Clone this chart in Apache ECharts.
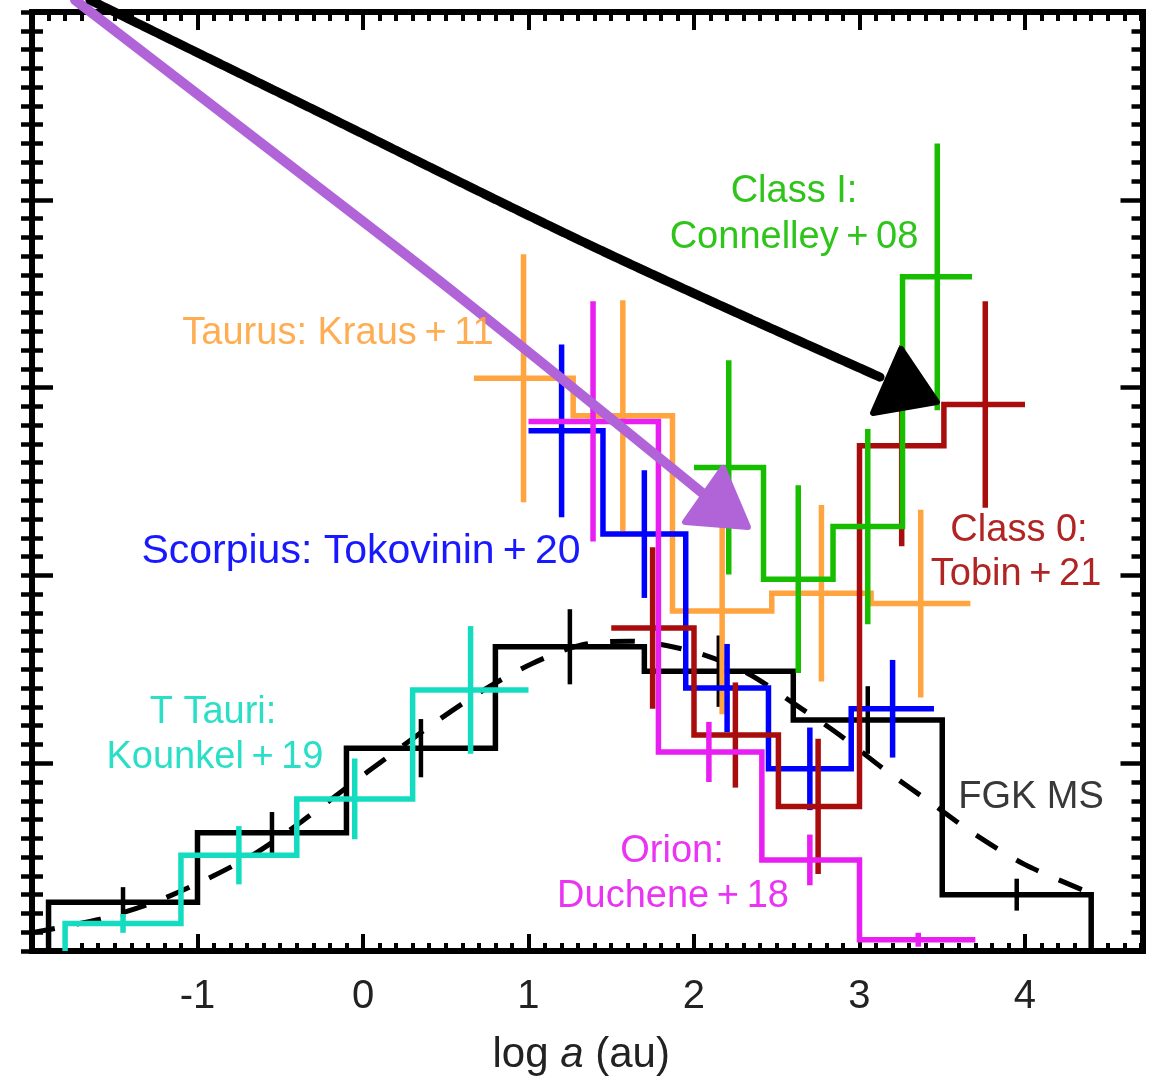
<!DOCTYPE html>
<html>
<head>
<meta charset="utf-8">
<script src="https://cdn.jsdelivr.net/npm/echarts@6/dist/echarts.min.js"></script>
<style>
  html, body { margin: 0; padding: 0; background: #fff; }
  #chart { width: 1158px; height: 1080px; }
</style>
</head>
<body>
<div id="chart"></div>
<script>
// Companion separation distributions, frequency per bin (arbitrary units) vs log a (au)

// FGK main-sequence field stars
const fgkEdges   = [-1.9, -1.0, -0.1, 0.8, 1.7, 2.6, 3.5, 4.4];
const fgkLevels  = [0.26, 0.63, 1.08, 1.62, 1.49, 1.23, 0.30];
const fgkCenters = [-1.45, -0.55, 0.35, 1.25, 2.15, 3.05, 3.95];
const fgkErrors  = [0.08, 0.11, 0.155, 0.20, 0.19, 0.18, 0.085];
// log-normal fit to the field sample (dashed)
const fgkFitX = [-2.01, -1.59, -1.26, -0.95, -0.65, -0.37, -0.10, 0.16, 0.44, 0.73, 1.02, 1.32, 1.61, 2.01, 2.32, 2.60, 2.88, 3.16, 3.43, 3.70, 4.00, 4.39];
const fgkFitY = [0.096, 0.17, 0.26, 0.38, 0.52, 0.69, 0.87, 1.04, 1.22, 1.39, 1.53, 1.63, 1.65, 1.59, 1.48, 1.32, 1.15, 0.96, 0.79, 0.62, 0.46, 0.31];

// T Tauri: Kounkel+19
const ttauEdges   = [-1.8, -1.1, -0.4, 0.3, 1.0];
const ttauLevels  = [0.147, 0.51, 0.81, 1.39];
const ttauCenters = [-1.45, -0.75, -0.05, 0.65];
const ttauErrors  = [0.05, 0.155, 0.215, 0.34];

// Taurus: Kraus+11
const tauEdges   = [0.67, 1.27, 1.87, 2.47, 3.07, 3.67];
const tauLevels  = [3.05, 2.85, 1.81, 1.905, 1.85];
const tauCenters = [0.97, 1.57, 2.17, 2.77, 3.37];
const tauErrors  = [0.66, 0.615, 0.55, 0.47, 0.50];

// Scorpius: Tokovinin+20
const scoEdges   = [1.0, 1.45, 1.95, 2.45, 2.95, 3.45];
const scoLevels  = [2.77, 2.22, 1.40, 0.97, 1.29];
const scoCenters = [1.2, 1.7, 2.2, 2.7, 3.2];
const scoErrors  = [0.46, 0.34, 0.235, 0.22, 0.26];

// Orion: Duchene+18
const oriEdges   = [1.0, 1.785, 2.41, 3.0, 3.7];
const oriLevels  = [2.82, 1.06, 0.485, 0.06];
const oriCenters = [1.39, 2.09, 2.70, 3.355];
const oriErrors  = [0.64, 0.16, 0.135, 0.037];

// Class 0: Tobin+21
const c0Edges   = [1.5, 2.0, 2.51, 3.0, 3.51, 4.0];
const c0Levels  = [1.72, 1.15, 0.77, 2.69, 2.91];
const c0Centers = [1.75, 2.25, 2.75, 3.255, 3.76];
const c0Errors  = [0.43, 0.28, 0.36, 0.535, 0.55];

// Class I: Connelley+08
const c1Edges   = [2.0, 2.42, 2.84, 3.26, 3.68];
const c1Levels  = [2.575, 1.98, 2.26, 3.59];
const c1Centers = [2.21, 2.63, 3.05, 3.47];
const c1Errors  = [0.57, 0.50, 0.52, 0.71];

// Hand-drawn arrows (data coordinates)
const blackArrowPath = [[-1.65, 5.064], [-0.379, 4.515], [1.432, 3.733], [3.124, 3.056]];
const blackArrowHead = [[3.251, 3.206], [3.082, 2.865], [3.468, 2.923]];
const purpleArrowPath = [[-1.74, 5.064], [-0.381, 4.143], [0.586, 3.482], [2.066, 2.428]];
const purpleArrowHead = [[2.175, 2.572], [1.946, 2.284], [2.326, 2.258]];

// Axis ranges and ticks
const xMin = -2, xMax = 4.71, yMin = 0, yMax = 5;
const xTickLabels = [-1, 0, 1, 2, 3, 4];
const yMajorTicks = [1, 2, 3, 4];

// ---------------------------------------------------------------------------
const C = {
  fgk: '#000000', ttau: '#14DCC0', tau: '#FFA43F', sco: '#0000FF',
  ori: '#E81EF2', c0: '#A80C0C', c1: '#17BE00', purple: '#B064D8'
};
const FONT = '"Liberation Sans", Arial, Helvetica, sans-serif';
const TEXT = '#222222';

const xMinor = [];
for (let k = Math.round(xMin * 10) + 1; k <= Math.floor(xMax * 10); k++) if (k % 10 !== 0) xMinor.push(k / 10);
const yMinor = [];
for (let k = 1; k < yMax * 10; k++) if (k % 10 !== 0) yMinor.push(k / 10);
const yAll = [];
for (let k = 0; k <= yMax * 10; k++) yAll.push(k / 10);

function stepPath(edges, levels, fromBase, toBase) {
  const pts = [];
  if (fromBase) pts.push([edges[0], 0]);
  levels.forEach((v, i) => { pts.push([edges[i], v]); pts.push([edges[i + 1], v]); });
  if (toBase) pts.push([edges[edges.length - 1], 0]);
  return pts;
}

function histSeries(name, edges, levels, color, fromBase, toBase, z) {
  return {
    type: 'line', name, z, silent: true, animation: false,
    data: stepPath(edges, levels, fromBase, toBase),
    symbol: 'none', showSymbol: false,
    lineStyle: { color, width: 5.5, join: 'miter', cap: 'butt' }
  };
}

function errSeries(name, centers, levels, errs, color, z, width) {
  return {
    type: 'custom', name, z, silent: true, animation: false,
    data: centers.map((c, i) => [c, levels[i] - errs[i], levels[i] + errs[i]]),
    encode: { x: 0, y: [1, 2] },
    renderItem(params, api) {
      const a = api.coord([api.value(0), api.value(1)]);
      const b = api.coord([api.value(0), api.value(2)]);
      return {
        type: 'line',
        shape: { x1: a[0], y1: a[1], x2: b[0], y2: b[1] },
        style: { stroke: color, lineWidth: width || 5.5 }
      };
    }
  };
}

function arrowSeries(name, path, head, color, width, z) {
  return {
    type: 'custom', name, z, silent: true, animation: false, clip: false,
    data: [0],
    renderItem(params, api) {
      const pts = path.map(p => api.coord(p));
      const hd = head.map(p => api.coord(p));
      const children = [];
      // thin side strokes give the marker-pen edge
      [-4, 4].forEach(off => {
        children.push({
          type: 'polyline',
          shape: { points: pts.map(p => [p[0], p[1] + off]), smooth: 0.35 },
          style: { stroke: color, lineWidth: 2, opacity: 0.45, fill: null, lineJoin: 'round', lineDash: [14, 5] }
        });
      });
      children.push({
        type: 'polyline', shape: { points: pts, smooth: 0.35 },
        style: { stroke: color, lineWidth: width, fill: null, lineJoin: 'round', lineCap: 'round' }
      });
      children.push({
        type: 'polygon', shape: { points: hd },
        style: { fill: color, stroke: color, lineWidth: 6, lineJoin: 'round' }
      });
      return { type: 'group', children };
    }
  };
}

const hiddenLine = { show: false, onZero: false };
const frameLine = { show: true, onZero: false, lineStyle: { color: '#000', width: 6, cap: 'square' } };

function xAxisCfg(position, ticks, len, extra) {
  return Object.assign({
    type: 'value', position, min: xMin, max: xMax,
    axisLine: hiddenLine,
    axisTick: { show: true, inside: true, length: len, customValues: ticks, lineStyle: { color: '#000', width: 4 } },
    axisLabel: { show: false },
    splitLine: { show: false }, minorTick: { show: false }
  }, extra || {});
}

function yAxisCfg(position, ticks, len, inside, extra) {
  return Object.assign({
    type: 'value', position, min: yMin, max: yMax,
    axisLine: hiddenLine,
    axisTick: { show: true, inside, length: len, customValues: ticks, lineStyle: { color: '#000', width: 4.5 } },
    axisLabel: { show: false },
    splitLine: { show: false }, minorTick: { show: false }
  }, extra || {});
}

const option = {
  animation: false,
  backgroundColor: '#ffffff',
  grid: { left: 32, right: 15.5, top: 12, bottom: 129, containLabel: false, outerBoundsMode: 'none' },
  xAxis: [
    xAxisCfg('bottom', xTickLabels, 17, {
      axisLine: frameLine,
      axisLabel: {
        show: true, customValues: xTickLabels, margin: 26,
        fontSize: 40, lineHeight: 40, fontFamily: FONT, color: TEXT,
        formatter: v => String(v)
      },
      name: '{t|log }{i|a}{t| (au)}',
      nameLocation: 'middle', nameGap: 83,
      nameTextStyle: {
        fontSize: 42, fontFamily: FONT, color: TEXT, padding: [0, 12, 0, 0],
        rich: {
          t: { fontSize: 42, fontFamily: FONT, color: TEXT },
          i: { fontSize: 42, fontFamily: FONT, color: TEXT, fontStyle: 'italic' }
        }
      }
    }),
    xAxisCfg('bottom', xMinor, 8),
    xAxisCfg('top', xTickLabels, 18, { axisLine: frameLine }),
    xAxisCfg('top', xMinor, 9)
  ],
  yAxis: [
    yAxisCfg('left', yMajorTicks, 21, true, { axisLine: frameLine }),
    yAxisCfg('left', yMinor, 11, true),
    yAxisCfg('left', yAll, 11, false),
    yAxisCfg('right', yMajorTicks, 22, true, { axisLine: frameLine }),
    yAxisCfg('right', yMinor, 11, true)
  ],
  series: [
    histSeries('FGK MS', fgkEdges, fgkLevels, C.fgk, true, true, 3),
    errSeries('FGK MS err', fgkCenters, fgkLevels, fgkErrors, C.fgk, 3, 4.5),
    {
      type: 'line', name: 'FGK MS fit', z: 4, silent: true, animation: false,
      data: fgkFitX.map((x, i) => [x, fgkFitY[i]]),
      symbol: 'none', smooth: 0.3,
      lineStyle: { color: '#000', width: 5, type: [25, 22] }
    },
    histSeries('T Tauri', ttauEdges, ttauLevels, C.ttau, true, false, 5),
    errSeries('T Tauri err', ttauCenters, ttauLevels, ttauErrors, C.ttau, 5),
    histSeries('Taurus', tauEdges, tauLevels, C.tau, false, false, 6),
    errSeries('Taurus err', tauCenters, tauLevels, tauErrors, C.tau, 6),
    histSeries('Scorpius', scoEdges, scoLevels, C.sco, false, false, 7),
    errSeries('Scorpius err', scoCenters, scoLevels, scoErrors, C.sco, 7),
    histSeries('Class 0', c0Edges, c0Levels, C.c0, false, false, 8),
    errSeries('Class 0 err', c0Centers, c0Levels, c0Errors, C.c0, 8),
    histSeries('Orion', oriEdges, oriLevels, C.ori, false, false, 9),
    errSeries('Orion err', oriCenters, oriLevels, oriErrors, C.ori, 9),
    histSeries('Class I', c1Edges, c1Levels, C.c1, false, false, 10),
    errSeries('Class I err', c1Centers, c1Levels, c1Errors, C.c1, 10),
    arrowSeries('arrow purple', purpleArrowPath, purpleArrowHead, C.purple, 10, 20),
    arrowSeries('arrow black', blackArrowPath, blackArrowHead, '#000', 9, 21)
  ],
  graphic: []
};

// Sample labels
const notes = [
  { text: 'Class I:', x: 794, y: 192, color: C.c1 },
  { text: 'Connelley\u2009+\u200908', x: 794, y: 238, color: C.c1 },
  { text: 'Taurus: Kraus\u2009+\u200911', x: 338, y: 334, color: C.tau },
  { text: 'Scorpius: Tokovinin\u2009+\u200920', x: 361, y: 552, color: C.sco, size: 41 },
  { text: 'T Tauri:', x: 213, y: 713, color: C.ttau },
  { text: 'Kounkel\u2009+\u200919', x: 215, y: 758, color: C.ttau },
  { text: 'Class 0:', x: 1019, y: 531, color: C.c0 },
  { text: 'Tobin\u2009+\u200921', x: 1016, y: 575, color: C.c0 },
  { text: 'Orion:', x: 672, y: 852, color: C.ori },
  { text: 'Duchene\u2009+\u200918', x: 673, y: 897, color: C.ori },
  { text: 'FGK MS', x: 1031, y: 798, color: TEXT }
];
option.graphic = notes.map(n => ({
  type: 'text', x: n.x, y: n.y, z: 50, silent: true,
  style: {
    text: n.text, fill: n.color, fontSize: n.size || 38, fontFamily: FONT,
    align: 'center', verticalAlign: 'middle', opacity: 0.9
  }
}));

const chart = echarts.init(document.getElementById('chart'), null, { renderer: 'canvas', width: 1158, height: 1080 });
chart.setOption(option);
</script>
</body>
</html>
